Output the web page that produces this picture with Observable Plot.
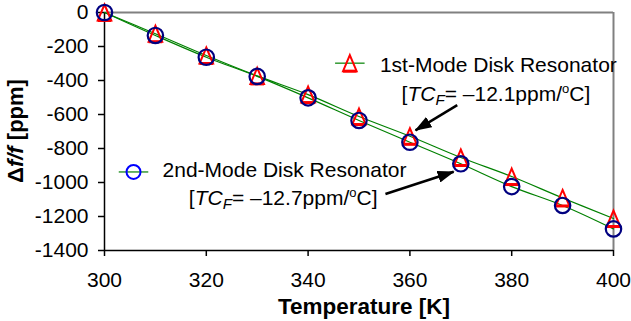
<!DOCTYPE html>
<html><head><meta charset="utf-8">
<script src="https://cdn.jsdelivr.net/npm/d3@7"></script>
<script src="https://cdn.jsdelivr.net/npm/@observablehq/plot@0.6"></script>
<style>body{margin:0;background:#fff} svg{display:block}</style>
</head><body><div id="chart"></div>
<script>
// ---- data ----
const temperatures = [300, 310, 320, 330, 340, 350, 360, 370, 380, 390, 400];
const mode1 = [0, -125, -253, -373, -483, -612, -728, -853, -965, -1091, -1212];
const mode2 = [0, -135, -263, -376, -502, -635, -763, -890, -1024, -1135, -1273];
const xTicks = [300, 320, 340, 360, 380, 400];
const yTicks = [0, -200, -400, -600, -800, -1000, -1200, -1400];
const seriesNames = ["1st-Mode Disk Resonator", "2nd-Mode Disk Resonator"];
const tcfValues = ["\u201312.1", "\u201312.7"];
// annotation anchors (data units)
const keyX = [348.2, 305.7];
const keyY = [-298, -938];
const nameX = [354.2, 311.5];
const nameY = [-351, -970];
const tcfX = [377.0, 335.2];
const tcfY = [-522, -1135];
const arrowFromX = [369.3, 355.2];
const arrowFromY = [-545, -1068];
const arrowToX = [361.1, 368.6];
const arrowToY = [-693, -937];

const FONT = "'Liberation Sans', Arial, Helvetica, sans-serif";
const rows = temperatures.map((t, i) => ({t, m1: mode1[i], m2: mode2[i]}));
const keys = [0, 1].map(i => ({x: keyX[i], y: keyY[i], x1: keyX[i] - 2.9, x2: keyX[i] + 2.9, s: i}));
const arrows = [0, 1].map(i => ({x1: arrowFromX[i], y1: arrowFromY[i], x2: arrowToX[i], y2: arrowToY[i]}));

const triUp = {draw(ctx, size) { const r = Math.sqrt(size / Math.PI); ctx.moveTo(0, -r); ctx.lineTo(r * 0.85, r); ctx.lineTo(-r * 0.85, r); ctx.closePath(); }};
const triBase = {draw(ctx, size) { const r = Math.sqrt(size / Math.PI); ctx.moveTo(-r * 0.85, r); ctx.lineTo(r * 0.85, r); }};

const chart = Plot.plot({
  width: 631, height: 321,
  marginLeft: 104, marginRight: 18, marginTop: 12, marginBottom: 71,
  style: {fontFamily: FONT, fontSize: "21px", background: "white", color: "black", overflow: "visible"},
  x: {domain: [300, 400]},
  y: {domain: [-1400, 0]},
  marks: [
    Plot.ruleY([0], {stroke: "#808080", strokeWidth: 2}),
    Plot.ruleX([400], {stroke: "#808080", strokeWidth: 2}),
    Plot.axisX({ticks: xTicks, tickSize: 6, tickPadding: 16, label: null, stroke: "black", strokeWidth: 1.5, fontSize: 21, tickFormat: d => String(d)}),
    Plot.axisY({ticks: yTicks, tickSize: 6, tickPadding: 10, label: null, stroke: "black", strokeWidth: 1.5, fontSize: 21, tickFormat: d => String(d)}),
    Plot.ruleX([300], {stroke: "black", strokeWidth: 1.5}),
    Plot.ruleY([-1400], {stroke: "black", strokeWidth: 1.5}),
    Plot.line(rows, {x: "t", y: "m1", stroke: "#008000", strokeWidth: 1.2, curve: "catmull-rom"}),
    Plot.line(rows, {x: "t", y: "m2", stroke: "#008000", strokeWidth: 1.2, curve: "catmull-rom"}),
    Plot.dot(rows, {x: "t", y: "m1", r: 8, symbol: triUp, stroke: "#ff0000", strokeWidth: 2, fill: "none"}),
    Plot.dot(rows, {x: "t", y: "m1", r: 8, symbol: triBase, stroke: "#ff0000", strokeWidth: 3, fill: "none"}),
    Plot.dot(rows, {x: "t", y: "m2", r: 7.7, stroke: "#000080", strokeWidth: 2.2, fill: "none"}),
    // legend keys
    Plot.link(keys, {x1: "x1", x2: "x2", y1: "y", y2: "y", stroke: "#008000", strokeWidth: 1.2}),
    Plot.dot(keys.filter(k => k.s === 0), {x: "x", y: "y", r: 8, symbol: triUp, stroke: "#ff0000", strokeWidth: 2, fill: "none"}),
    Plot.dot(keys.filter(k => k.s === 0), {x: "x", y: "y", r: 8, symbol: triBase, stroke: "#ff0000", strokeWidth: 3, fill: "none"}),
    Plot.dot(keys.filter(k => k.s === 1), {x: "x", y: "y", r: 7, stroke: "#0000ff", strokeWidth: 2, fill: "none"}),
    // arrows
    Plot.link(arrows, {x1: "x1", y1: "y1", x2: "x2", y2: "y2", stroke: "black", strokeWidth: 2.5, className: "ann-arrow"})
  ]
});
document.getElementById("chart").appendChild(chart);

const svg = d3.select(chart);
const sx = chart.scale("x"), sy = chart.scale("y");

// filled arrowheads
const defs = svg.append("defs");
defs.append("marker").attr("id", "ahead").attr("viewBox", "0 0 17 12").attr("refX", 16).attr("refY", 6)
  .attr("markerWidth", 17).attr("markerHeight", 12).attr("markerUnits", "userSpaceOnUse").attr("orient", "auto")
  .append("path").attr("d", "M0,0L17,6L0,12Z").attr("fill", "black");
svg.selectAll(".ann-arrow path").attr("marker-end", "url(#ahead)");

function rich(x, y, anchor, parts, size, weight, transform) {
  const t = svg.append("text").attr("font-family", FONT).attr("font-size", size)
    .attr("font-weight", weight || "normal").attr("text-anchor", anchor).attr("fill", "black");
  if (transform) t.attr("transform", transform); else t.attr("x", x).attr("y", y);
  let shift = 0;
  for (const p of parts) {
    const s = t.append("tspan").text(p.t);
    if (p.i) s.attr("font-style", "italic");
    let target = 0, fs = size;
    if (p.sub) { target = 0.2 * size; fs = 0.72 * size; }
    if (p.sup) { target = -0.38 * size; fs = 0.62 * size; }
    s.attr("font-size", fs);
    if (target !== shift) { s.attr("dy", target - shift); shift = target; }
  }
  return t;
}

for (let i = 0; i < 2; i++) {
  rich(sx.apply(nameX[i]), sy.apply(nameY[i]), "start", [{t: seriesNames[i]}], 21);
  rich(sx.apply(tcfX[i]), sy.apply(tcfY[i]), "middle",
    [{t: "["}, {t: "TC", i: true}, {t: "F", i: true, sub: true}, {t: "= " + tcfValues[i] + "ppm/"}, {t: "o", sup: true}, {t: "C]"}], 21);
}
// axis titles
rich(0, 0, "middle", [{t: "Temperature [K]"}], 22.5, "bold").attr("x", 364).attr("y", 314);
rich(0, 0, "middle", [{t: "\u0394"}, {t: "f/f", i: true}, {t: " [ppm]"}], 22, "bold", "translate(23,131) rotate(-90)");
</script>
</body></html>
